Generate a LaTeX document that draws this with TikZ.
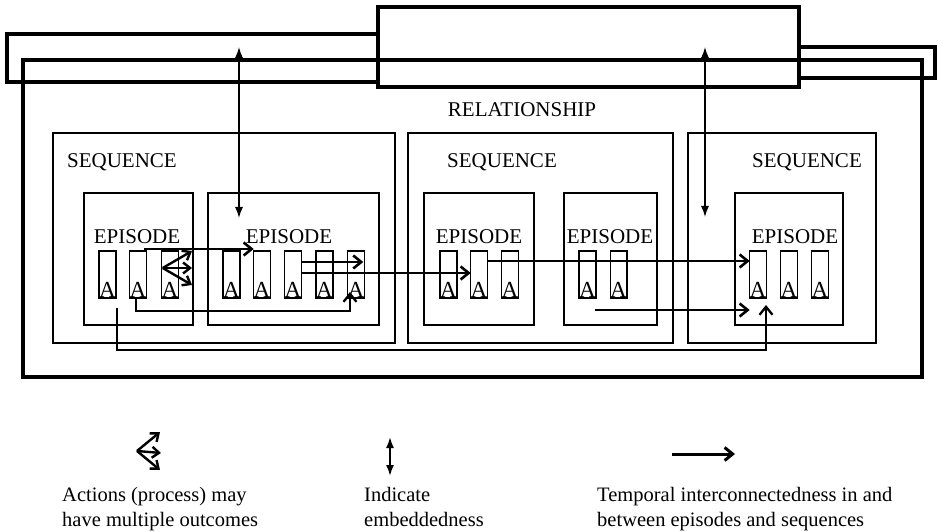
\documentclass[tikz,border=0pt]{standalone}
\usepackage{fontspec}
\setmainfont{Liberation Serif}
\usetikzlibrary{arrows.meta,calc}
\begin{document}
\begin{tikzpicture}[x=1pt,y=-1pt,
  thickbox/.style={draw, line width=4.8pt, inner sep=0pt, outer sep=0pt},
  seqbox/.style={draw, line width=2.8pt, inner sep=0pt, outer sep=0pt, minimum height=210pt},
  epbox/.style={draw, line width=1.4pt, inner sep=0pt, outer sep=0pt, minimum height=132pt},
  actbox/.style={draw, line width=1.4pt, inner sep=0pt, outer sep=0pt, minimum width=16pt, minimum height=47pt, text height=45pt, text depth=0pt, font=\fontsize{23}{25}\selectfont},
  lbl/.style={inner sep=0pt, font=\fontsize{21}{25}\selectfont},
  leg/.style={inner sep=0pt, anchor=base west, font=\fontsize{20.5}{25}\selectfont},
  temporal/.style={line width=2.6pt, -{Straight Barb[length=8pt,width=13pt]}},
  multi/.style={line width=2.4pt, -{Straight Barb[length=7pt,width=11pt]}},
  embed/.style={line width=1.3pt, {Latex[length=11pt,width=8pt]}-{Latex[length=11pt,width=8pt]}}]
\useasboundingbox (0,0) rectangle (938,532);

% outer frames
\draw[line width=4.8pt] (378,34) -- (7,34) -- (7,82) -- (378,82);
\draw[line width=4.8pt] (799,47) -- (935,47) -- (935,78) -- (799,78);
\node[thickbox, minimum width=421pt, minimum height=80pt] (top) at (588.5,47) {};
\node[thickbox, minimum width=899pt, minimum height=317pt] (rel) at (472.5,218.5) {};
\node[lbl] (reltxt) at (522,110) {RELATIONSHIP};

% sequences
\node[seqbox, minimum width=342pt] (s1) at (224,238) {};
\node[seqbox, minimum width=265pt] (s2) at (540.5,238) {};
\node[seqbox, minimum width=188pt] (s3) at (782,238) {};
\node[lbl] (s1t) at (122,162) {SEQUENCE};
\node[lbl] (s2t) at (502,162) {SEQUENCE};
\node[lbl] (s3t) at (807,162) {SEQUENCE};

% episodes
\node[epbox, minimum width=109pt] (ep1) at (138.5,259) {};
\node[epbox, minimum width=171pt] (ep2) at (293.5,259) {};
\node[epbox, minimum width=110pt] (ep3) at (479,259) {};
\node[epbox, minimum width=93pt] (ep4) at (610.5,259) {};
\node[epbox, minimum width=108pt] (ep5) at (789,259) {};
\node[lbl] (e1t) at (137,237) {EPISODE};
\node[lbl] (e2t) at (289,237) {EPISODE};
\node[lbl] (e3t) at (479,237) {EPISODE};
\node[lbl] (e4t) at (610,237) {EPISODE};
\node[lbl] (e5t) at (795,237) {EPISODE};

% actions
\node[actbox] (a11) at (107.5,274.5) {A};
\node[actbox] (a12) at (138,274.5) {A};
\node[actbox] (a13) at (170,274.5) {A};
\node[actbox] (a21) at (231.5,274.5) {A};
\node[actbox] (a22) at (262,274.5) {A};
\node[actbox] (a23) at (293,274.5) {A};
\node[actbox] (a24) at (324.5,274.5) {A};
\node[actbox] (a25) at (356,274.5) {A};
\node[actbox] (a31) at (448.5,274.5) {A};
\node[actbox] (a32) at (479,274.5) {A};
\node[actbox] (a33) at (510,274.5) {A};
\node[actbox] (a41) at (587.5,274.5) {A};
\node[actbox] (a42) at (618.5,274.5) {A};
\node[actbox] (a51) at (758,274.5) {A};
\node[actbox] (a52) at (789,274.5) {A};
\node[actbox] (a53) at (820,274.5) {A};

% embeddedness arrows
\coordinate (em1a) at (239,47);
\coordinate (em1b) at (239,218);
\coordinate (em2a) at (705,47);
\coordinate (em2b) at (705,217);
\draw[embed] (em1a) -- (em1b);
\draw[embed] (em2a) -- (em2b);

% temporal arrows
\draw[temporal] ([xshift=-2pt,yshift=2pt]a12.north east) -- ([yshift=2pt]a22.north west);
\coordinate (mo) at ([xshift=1pt,yshift=6.5pt]a13.west);
\draw[multi] (mo) -- ([xshift=-1pt,yshift=8pt]ep1.east);
\draw[multi] (mo) -- ([xshift=-1pt,yshift=-9pt]ep1.east);
\draw[multi] (mo) -- ([xshift=-1pt,yshift=-26pt]ep1.east);
\draw[temporal] ([yshift=12.5pt]a23.east) -- ([xshift=-1pt,yshift=12.5pt]a25.east);
\draw[temporal] ([yshift=1.5pt]a23.east) -- ([yshift=1.5pt]a32.west);
\draw[temporal] ([yshift=13.5pt]a32.east) -- ([yshift=13.5pt]a51.west);
\coordinate (t6s) at (595,310);
\draw[temporal] (t6s) -- ([yshift=-35.5pt]a51.west);
\draw[temporal, line width=2.3pt] ([xshift=-2pt]a12.south) |- ([xshift=-6pt,yshift=-13pt]a25.south) -- ([xshift=-6pt,yshift=6pt]a25.south);
\coordinate (t8s) at (117,308);
\draw[temporal, line width=2.3pt] (t8s) |- ([xshift=8pt,yshift=-52pt]a51.south) -- ([xshift=8pt,yshift=-7pt]a51.south);

% legend
\coordinate (lmo) at (137,451);
\coordinate (lm1) at (160,432);
\coordinate (lm2) at (161,453);
\coordinate (lm3) at (160,470);
\draw[multi] (lmo) -- (lm1);
\draw[multi] (lmo) -- (lm2);
\draw[multi] (lmo) -- (lm3);
\coordinate (ld1) at (390,437);
\coordinate (ld2) at (390,476);
\draw[embed, line width=1.8pt] (ld1) -- (ld2);
\coordinate (lt1) at (672,454);
\coordinate (lt2) at (735,454);
\draw[temporal, line width=3pt] (lt1) -- (lt2);
\node[leg] (l1a) at (62,501) {Actions (process) may};
\node[leg] (l1b) at (62,526) {have multiple outcomes};
\node[leg] (l2a) at (364,501) {Indicate};
\node[leg] (l2b) at (364,526) {embeddedness};
\node[leg] (l3a) at (597,501) {Temporal interconnectedness in and};
\node[leg] (l3b) at (597,526) {between episodes and sequences};
\end{tikzpicture}
\end{document}
